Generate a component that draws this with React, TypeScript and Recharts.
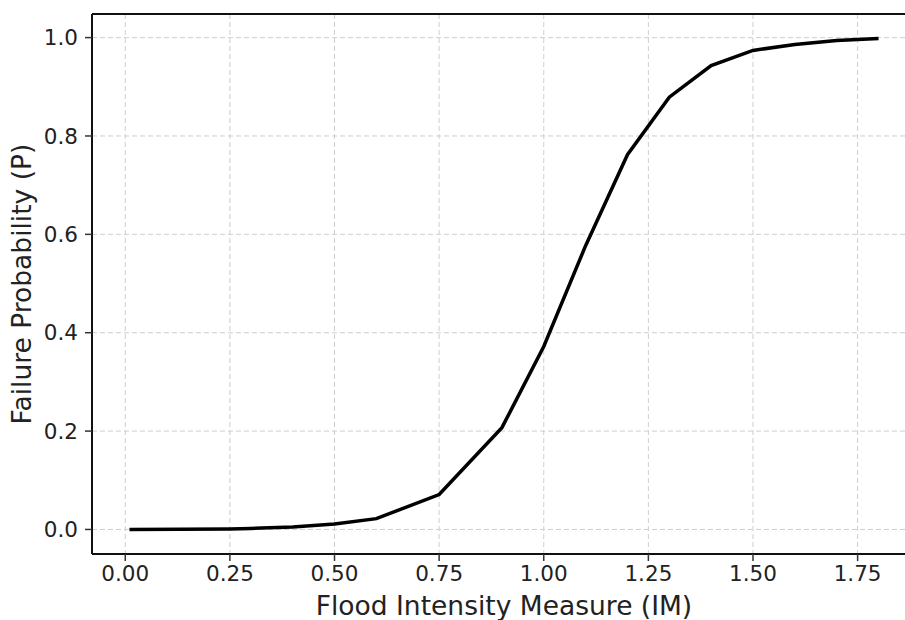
import { LineChart, Line, XAxis, YAxis, CartesianGrid, ReferenceLine, Label } from "recharts";

// intensity measure values where the curve was sampled
const intensity = [0.01, 0.25, 0.3, 0.4, 0.5, 0.6, 0.75, 0.9, 1.0, 1.1, 1.2, 1.3, 1.4, 1.5, 1.6, 1.7, 1.8];
// failure probability
const probability = [0.0, 0.001, 0.002, 0.005, 0.011, 0.022, 0.071, 0.207, 0.372, 0.577, 0.762, 0.879, 0.943, 0.974, 0.986, 0.994, 0.998];

const xTicks = [0, 0.25, 0.5, 0.75, 1.0, 1.25, 1.5, 1.75];
const yTicks = [0, 0.2, 0.4, 0.6, 0.8, 1.0];

const xDomain: [number, number] = [-0.0795, 1.8895];
const yDomain: [number, number] = [-0.0499, 1.048];

const data = intensity.map((im, i) => ({ im, p: probability[i] }));

const font = "'DejaVu Sans', sans-serif";
const tickStyle = { fill: "#222", fontSize: 21.5, fontFamily: font };
const labelStyle = { fill: "#222", fontSize: 26.5, fontFamily: font };

export default function App() {
  return (
    <div style={{ position: "absolute", left: 0, top: 0, width: 905, height: 620, overflow: "hidden", background: "#fff" }}>
      <LineChart width={930} height={620} data={data} margin={{ top: 14, right: 14, left: 0, bottom: 0 }}>
        <CartesianGrid stroke="#cfcfcf" strokeDasharray="5 3" strokeWidth={1} />
        <XAxis
          dataKey="im"
          type="number"
          domain={xDomain}
          ticks={xTicks}
          allowDataOverflow
          tickFormatter={(v) => Number(v).toFixed(2)}
          tick={tickStyle}
          tickSize={7}
          tickMargin={5}
          height={66}
          axisLine={{ stroke: "#111", strokeWidth: 2 }}
          tickLine={{ stroke: "#333", strokeWidth: 1.5 }}
        >
          <Label
            value="Flood Intensity Measure (IM)"
            position="insideBottom"
            offset={5}
            style={labelStyle}
          />
        </XAxis>
        <YAxis
          type="number"
          domain={yDomain}
          ticks={yTicks}
          allowDataOverflow
          tickFormatter={(v) => Number(v).toFixed(1)}
          tick={tickStyle}
          tickSize={7}
          tickMargin={7}
          width={92}
          axisLine={{ stroke: "#111", strokeWidth: 2 }}
          tickLine={{ stroke: "#333", strokeWidth: 1.5 }}
        >
          <Label
            value="Failure Probability (P)"
            angle={-90}
            position="insideLeft"
            offset={22}
            style={{ ...labelStyle, textAnchor: "middle" }}
          />
        </YAxis>
        <ReferenceLine y={yDomain[1]} stroke="#111" strokeWidth={2} ifOverflow="visible" />
        <ReferenceLine x={xDomain[1]} stroke="#111" strokeWidth={2} ifOverflow="visible" />
        <Line
          type="linear"
          dataKey="p"
          stroke="#000"
          strokeWidth={3.5}
          dot={false}
          isAnimationActive={false}
        />
      </LineChart>
    </div>
  );
}
